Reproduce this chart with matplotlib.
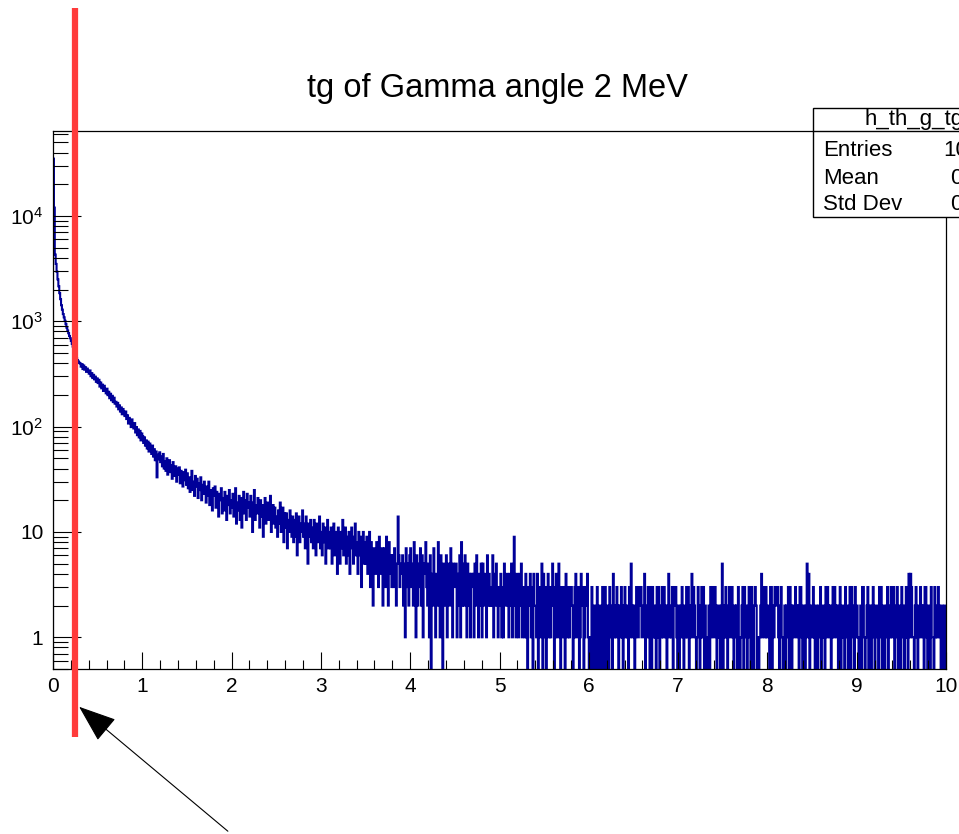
import matplotlib
matplotlib.use('Agg')
import matplotlib.pyplot as plt
import numpy as np
from matplotlib.ticker import FixedLocator, MultipleLocator, LogLocator, NullFormatter
from matplotlib.patches import FancyArrowPatch, Rectangle
from matplotlib.lines import Line2D
from matplotlib.transforms import blended_transform_factory

plt.rcParams['font.family'] = ['Liberation Sans', 'DejaVu Sans']
plt.rcParams['mathtext.fontset'] = 'custom'
plt.rcParams['mathtext.rm'] = 'Liberation Sans'
plt.rcParams['mathtext.default'] = 'regular'

# ---------------- data ----------------
title = 'tg of Gamma angle 2 MeV'
hist_name = 'h_th_g_tg'
stat_names = ['Entries', 'Mean', 'Std Dev']
stat_values = ['100000', '0.6842', '0.9315']   # cut off by the picture edge
x_lo, x_hi, n_bins = 0, 10, 1000
red_mark_x = 0.25

y_ticks = [1, 10, 100, 1000, 10000]
y_ticklabels = ['1', '10', '$10^{2}$', '$10^{3}$', '$10^{4}$']

# bins 0..399 (x = 0 .. 4), ten bins per row
head_counts = [
    35000, 12000, 4300, 3500, 2950, 2500, 2150, 1850, 1620, 1420,
    1290, 1170, 1090, 1010, 940, 870, 815, 770, 725, 690,
    650, 610, 575, 540, 500, 468, 445, 428, 415, 404,
    398, 371, 392, 352, 380, 347, 366, 331, 355, 338,
    318, 341, 301, 322, 289, 310, 281, 298, 266, 287,
    259, 278, 240, 262, 231, 250, 218, 244, 226, 207,
    229, 199, 214, 186, 205, 178, 196, 171, 188, 165,
    172, 155, 168, 146, 159, 139, 152, 131, 147, 138,
    126, 139, 118, 128, 107, 121, 112, 99, 117, 104,
    96, 108, 88, 99, 83, 94, 79, 91, 74, 86,
    81, 70, 79, 66, 74, 62, 72, 58, 69, 63,
    55, 66, 52, 61, 48, 58, 33, 54, 49, 57,
    46, 52, 42, 55, 40, 47, 38, 50, 35, 44,
    48, 37, 43, 32, 46, 39, 34, 42, 30, 40,
    35, 41, 29, 38, 33, 27, 37, 31, 39, 28,
    36, 26, 33, 24, 31, 38, 25, 30, 22, 34,
    27, 32, 21, 29, 25, 33, 20, 28, 23, 30,
    24, 19, 27, 22, 30, 18, 25, 21, 16, 26,
    22, 27, 17, 24, 19, 14, 23, 20, 26, 15,
    21, 16, 24, 19, 13, 22, 18, 25, 15, 20,
    17, 23, 14, 20, 26, 12, 19, 16, 22, 13,
    21, 11, 18, 24, 15, 20, 13, 23, 17, 19,
    14, 22, 16, 10, 19, 25, 13, 18, 15, 21,
    17, 11, 20, 14, 18, 9, 16, 21, 12, 15,
    19, 13, 16, 22, 10, 15, 18, 12, 17, 11,
    14, 9, 16, 12, 19, 10, 13, 17, 8, 15,
    11, 15, 7, 13, 10, 16, 12, 9, 14, 8,
    13, 9, 15, 6, 11, 14, 8, 12, 10, 16,
    9, 12, 7, 14, 10, 5, 12, 9, 13, 8,
    11, 7, 13, 9, 6, 12, 10, 8, 14, 7,
    10, 6, 12, 8, 11, 5, 9, 13, 7, 10,
    7, 11, 5, 9, 12, 6, 10, 8, 4, 11,
    9, 5, 10, 7, 13, 6, 8, 11, 5, 9,
    6, 10, 4, 8, 11, 7, 5, 9, 12, 6,
    8, 4, 10, 6, 9, 3, 7, 10, 5, 8,
    5, 9, 4, 7, 10, 3, 8, 6, 2, 7,
    7, 4, 8, 5, 3, 9, 6, 4, 7, 2,
    4, 7, 3, 9, 5, 2, 8, 4, 6, 3,
    6, 3, 7, 4, 2, 5, 14, 6, 3, 5,
    4, 6, 2, 5, 1, 7, 3, 5, 2, 6,
]

# bins 400..999 (x = 4 .. 10), one digit per bin
tail_rows = [
    "7352841625", "3726154832", "5160427314", "2841630524", "6135274153",
    "3514261825", "2631524143", "4152631425", "1524316242", "3261425313",
    "2413152342", "1425139214", "3142512314", "1032413042", "2140312504",
    "1302413125", "3014215203", "2130421312", "3201341230", "1423013241",
    "0103102103", "1020130130", "2103120412", "1320213102", "3121031521",
    "2013213231", "1240123103", "0312103130", "2131321024", "1213032310",
    "2012310213", "1301241321", "0132013130", "2101203132", "1320121025",
    "0213102312", "3102120310", "1230312013", "2031023201", "0124132131",
    "1203302132", "2310231012", "0213032021", "1321203310", "2102514021",
    "1310210213", "0121031321", "2013132120", "1301210312", "0130321031",
    "2101203310", "1230210231", "0221031302", "2012302131", "1301230210",
    "3120131041", "4311023102", "1321203310", "2103110312", "1321021021",
]

tail_counts = [int(c) for row in tail_rows for c in row]
counts = np.array(head_counts + tail_counts, dtype=float)
edges = np.linspace(x_lo, x_hi, n_bins + 1)

# empty bins fall off the bottom of the log axis, like ROOT draws them
plot_counts = np.where(counts > 0, counts, 1e-2)

fig = plt.figure(figsize=(9.59, 8.34), dpi=100)
ax = fig.add_axes([53 / 959, 165 / 834, 893 / 959, 538 / 834])

ax.stairs(plot_counts, edges, baseline=1e-2, color='#000099', lw=1.5)

ax.set_xlim(x_lo, x_hi)
ax.set_yscale('log')
ax.set_ylim(0.5, 64000)

ax.xaxis.set_major_locator(FixedLocator(range(0, 11)))
ax.xaxis.set_minor_locator(MultipleLocator(0.2))
ax.yaxis.set_major_locator(FixedLocator(y_ticks))
ax.set_yticklabels(y_ticklabels)
ax.yaxis.set_minor_locator(LogLocator(base=10, subs=np.arange(2, 10)))
ax.yaxis.set_minor_formatter(NullFormatter())

ax.tick_params(axis='both', which='both', direction='in', top=False, right=False,
               width=0.8, labelsize=15, colors='black')
ax.tick_params(axis='y', which='major', length=20, pad=7)
ax.tick_params(axis='y', which='minor', length=11)
ax.tick_params(axis='x', which='major', length=12, pad=6)
ax.tick_params(axis='x', which='minor', length=6.5)
for s in ax.spines.values():
    s.set_linewidth(0.9)

fig.text(497 / 959, 1 - 88 / 834, title, ha='center', va='center', fontsize=23.5)

# stats box (runs off the right edge of the picture)
box = Rectangle((813 / 959, 1 - 217 / 834), 300 / 959, 109 / 834,
                transform=fig.transFigure, facecolor='white', edgecolor='black',
                lw=1.0, zorder=5)
fig.add_artist(box)
fig.add_artist(Line2D([813 / 959, 1.2], [1 - 131 / 834] * 2, transform=fig.transFigure,
                      color='black', lw=1.0, zorder=6))
fig.text(865 / 959, 1 - 120 / 834, hist_name, ha='left', va='center', fontsize=16, zorder=7)
for i, (name, val) in enumerate(zip(stat_names, stat_values)):
    yy = 1 - (151 + 27 * i) / 834
    fig.text(823 / 959, yy, name, ha='left', va='center', fontsize=16, zorder=7)
    fig.text(1018 / 959, yy, val, ha='right', va='center', fontsize=16, zorder=7)

# red marker line and arrow
tr = blended_transform_factory(ax.transData, fig.transFigure)
ax.plot([red_mark_x, red_mark_x], [1 - 8 / 834, 1 - 737 / 834], transform=tr,
        color='#ff3b3b', lw=4.5, clip_on=False, zorder=10, solid_capstyle='butt')

arrow = FancyArrowPatch((230 / 959, 1 - 833 / 834), (77 / 959, 1 - 705 / 834),
                        transform=fig.transFigure, arrowstyle='-|>,head_length=1.6,head_width=0.6',
                        mutation_scale=15, color='black', lw=0.8, zorder=11)
fig.add_artist(arrow)

fig.savefig('out.png', dpi=100)
